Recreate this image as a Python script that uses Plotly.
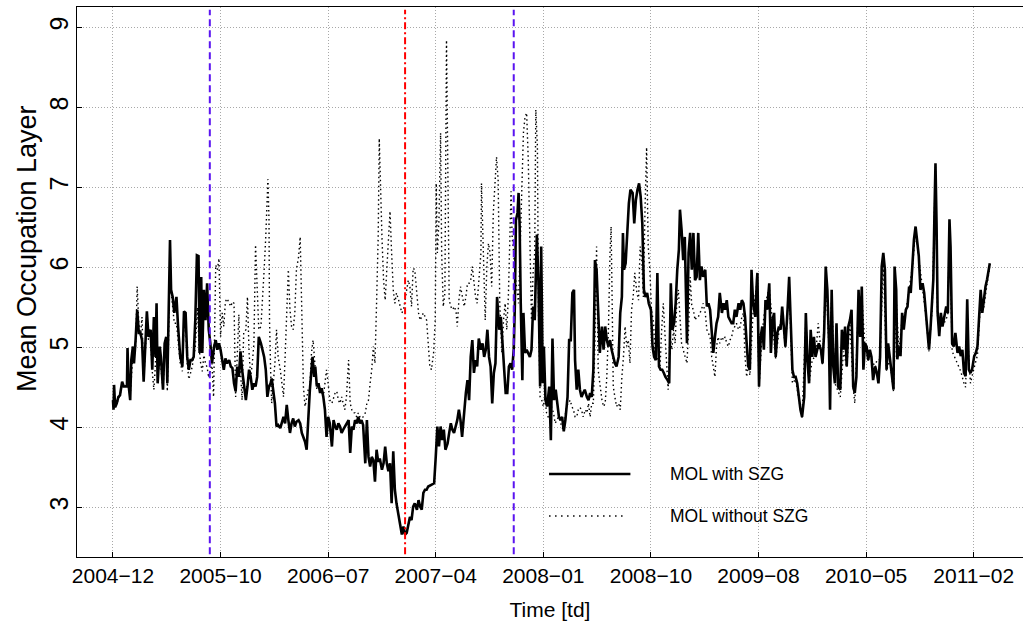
import plotly.graph_objects as go

# ---------------- data (x = trading-day index, y = mean occupation layer) ----------------
tick_td = [0, 200, 400, 600, 800, 1000, 1200, 1400, 1600]
tick_labels = ["2004\u221212", "2005\u221210", "2006\u221207", "2007\u221204", "2008\u221201",
               "2008\u221210", "2009\u221208", "2010\u221205", "2011\u221202"]
y_ticks = [3, 4, 5, 6, 7, 8, 9]

event_td = [180, 543, 745]
event_colors = ["#5a14f0", "#ff0000", "#5a14f0"]
event_dash = ["7px,4px", "7px,3px,2px,3px", "7px,4px"]

mol_with_szg = [
    (0, 4.34), (1, 4.22), (2, 4.53), (4, 4.25), (7, 4.30), (10, 4.38), (13, 4.40), (17, 4.57),
    (20, 4.51), (26, 4.51), (27, 4.99), (29, 4.53), (32, 4.34), (34, 4.84), (37, 5.01), (39, 4.80),
    (42, 5.09), (45, 5.47), (48, 5.18), (51, 5.18), (54, 5.09), (57, 4.57), (60, 5.01), (63, 5.45),
    (66, 5.13), (70, 5.22), (73, 4.72), (76, 5.38), (79, 4.88), (81, 5.55), (83, 4.55), (87, 5.01),
    (89, 4.88), (93, 4.47), (96, 5.05), (99, 5.13), (101, 4.55), (103, 5.13), (106, 6.34), (108, 5.72),
    (111, 5.63), (114, 5.43), (118, 5.63), (121, 5.26), (125, 4.88), (129, 4.76), (132, 5.45), (135, 5.43),
    (138, 4.88), (141, 4.72), (144, 4.84), (147, 4.84), (150, 4.88), (153, 5.34), (156, 6.15), (159, 6.14),
    (161, 4.93), (164, 5.88), (166, 4.93), (169, 5.72), (172, 5.34), (175, 5.80), (178, 5.22), (181, 5.05),
    (184, 4.80), (188, 5.01), (191, 5.09), (194, 4.97), (197, 5.05), (200, 4.97), (203, 4.84), (206, 4.72),
    (209, 4.86), (212, 4.80), (216, 4.84), (219, 4.76), (222, 4.74), (225, 4.55), (228, 4.45), (231, 4.76),
    (234, 4.63), (237, 4.95), (240, 4.72), (243, 4.55), (247, 4.34), (250, 4.51), (253, 4.72), (256, 4.63),
    (259, 4.47), (262, 4.55), (265, 4.51), (268, 4.63), (271, 5.13), (275, 5.05), (278, 4.97), (281, 4.88),
    (284, 4.72), (287, 4.38), (290, 4.51), (293, 4.55),
    (295, 4.61), (298, 4.47), (301, 4.30), (304, 4.01), (307, 4.03), (311, 3.99), (314, 4.05), (317, 4.13),
    (320, 4.05), (323, 4.28), (326, 4.09), (329, 3.93), (332, 4.05), (335, 4.11), (338, 4.01), (341, 4.07),
    (345, 4.09), (348, 4.05), (351, 3.93), (354, 3.88), (357, 3.82), (360, 3.72), (363, 4.18), (366, 4.47),
    (369, 4.72), (371, 4.88), (374, 4.63), (376, 4.76), (379, 4.51), (382, 4.55), (385, 4.43), (388, 4.49),
    (391, 4.38), (394, 4.22), (397, 3.88), (400, 4.13), (403, 4.05), (407, 3.76), (410, 4.09), (413, 4.01),
    (416, 3.97), (419, 4.05), (422, 4.01), (425, 3.93), (428, 3.97), (431, 4.01), (434, 4.05), (438, 4.09),
    (441, 3.68), (444, 4.01), (447, 3.97), (450, 4.09), (453, 4.05), (456, 4.13), (459, 4.05), (462, 4.09),
    (465, 4.03), (469, 3.55), (472, 4.09), (475, 3.63), (478, 3.51), (481, 3.63), (484, 3.59), (487, 3.32),
    (490, 3.72), (493, 3.57), (496, 3.61), (500, 3.47), (503, 3.55), (506, 3.76), (509, 3.55), (512, 3.45),
    (515, 3.55), (518, 3.05), (521, 3.70), (524, 3.22), (527, 3.05), (531, 2.88), (534, 2.80), (537, 2.66),
    (540, 2.76), (543, 2.66), (546, 2.68), (549, 2.80), (552, 2.88), (555, 2.84), (558, 3.01), (561, 3.05),
    (565, 2.97), (568, 3.09), (571, 3.01), (574, 2.97), (577, 3.18), (580, 3.22), (583, 3.22), (586, 3.26),
    (592, 3.28), (597, 3.30),
    (600, 3.63), (603, 4.01), (606, 3.76), (609, 4.01), (612, 3.84), (615, 3.97), (618, 3.72), (622, 3.80),
    (625, 3.93), (628, 4.05), (631, 3.97), (634, 3.93), (637, 4.01), (640, 4.09), (643, 4.22), (646, 4.09),
    (649, 3.88), (653, 4.22), (656, 4.43), (659, 4.59), (662, 4.34), (665, 4.88), (668, 5.09), (671, 4.68),
    (674, 4.84), (677, 4.76), (680, 5.11), (684, 4.97), (687, 5.05), (690, 4.88), (693, 4.97), (696, 5.22),
    (699, 4.88), (702, 4.76), (705, 4.30), (708, 4.68), (711, 4.80), (714, 5.63), (718, 5.22), (721, 5.38),
    (724, 5.01), (727, 4.68), (730, 4.43), (733, 4.43), (736, 4.76), (739, 4.80), (742, 4.72), (745, 4.97),
    (747, 5.51), (749, 6.59), (752, 6.68), (754, 6.93), (756, 6.51), (758, 5.55), (761, 4.59), (763, 5.43),
    (766, 4.93), (769, 4.97), (772, 4.93), (775, 4.88), (778, 4.97), (781, 5.51), (784, 5.34), (788, 6.41),
    (791, 5.80), (794, 4.51), (796, 6.26), (799, 4.55), (801, 5.01), (804, 4.34), (807, 4.26), (811, 4.51),
    (814, 3.84), (817, 5.11), (820, 4.34), (823, 4.47), (826, 4.30), (829, 4.13), (832, 4.09), (835, 4.13),
    (838, 3.95), (841, 4.09), (845, 4.38), (848, 5.09), (851, 5.09), (854, 5.68), (857, 5.72), (859, 4.84),
    (862, 4.47), (865, 4.72), (868, 4.47), (871, 4.38), (874, 4.43), (877, 4.47), (881, 4.38), (884, 4.34),
    (887, 4.43),
    (890, 4.38), (893, 4.72), (896, 6.09), (899, 5.97), (902, 5.30), (905, 4.93), (909, 5.26), (912, 4.97),
    (915, 5.26), (918, 5.09), (921, 5.01), (924, 5.09), (927, 4.97), (930, 4.88), (933, 4.80), (936, 4.76),
    (940, 4.88), (943, 5.43), (946, 5.63), (948, 6.43), (950, 5.97), (953, 6.05), (956, 6.47), (959, 6.80),
    (962, 6.97), (966, 6.93), (969, 6.55), (972, 6.84), (975, 6.97), (978, 7.05), (981, 6.88), (984, 6.55),
    (987, 5.72), (990, 5.63), (993, 5.68), (996, 5.55), (1000, 5.47), (1003, 5.01), (1006, 4.88), (1009, 4.84),
    (1012, 5.93), (1015, 4.76), (1018, 4.72), (1021, 4.72), (1024, 4.68), (1027, 4.63), (1031, 4.59), (1034, 4.55),
    (1037, 5.80), (1040, 5.22), (1043, 5.30), (1046, 5.55), (1049, 5.97), (1052, 6.22), (1054, 6.72), (1057, 6.47),
    (1060, 6.09), (1063, 6.38), (1067, 5.05), (1070, 6.18), (1073, 6.43), (1076, 5.97), (1079, 6.43), (1082, 5.84),
    (1085, 5.88), (1088, 6.43), (1091, 5.84), (1094, 6.01), (1097, 5.88), (1101, 5.97), (1104, 5.51), (1107, 5.55),
    (1110, 5.47), (1113, 5.22), (1116, 4.93), (1119, 5.13), (1122, 5.30), (1125, 5.38), (1128, 5.68), (1132, 5.43),
    (1135, 5.55), (1138, 5.47), (1141, 5.59), (1144, 5.38), (1147, 5.34), (1150, 5.30), (1153, 5.30), (1156, 5.47),
    (1159, 5.38), (1163, 5.55), (1166, 5.47), (1169, 5.59), (1172, 5.55), (1175, 5.38), (1178, 5.05), (1181, 4.76),
    (1184, 4.72), (1187, 5.97), (1190, 5.55), (1194, 5.38), (1197, 5.84), (1198, 5.93), (1201, 4.51), (1204, 5.13),
    (1207, 5.26), (1210, 4.97), (1213, 5.59), (1216, 5.47), (1220, 5.80), (1223, 4.93), (1226, 5.34), (1229, 5.43),
    (1232, 4.88), (1235, 5.18), (1238, 5.26), (1241, 5.22), (1244, 5.51), (1247, 5.26), (1250, 5.01), (1254, 5.47),
    (1257, 5.88), (1260, 5.30), (1263, 4.72), (1266, 4.63), (1269, 4.63), (1272, 4.55), (1275, 4.38), (1278, 4.22),
    (1281, 4.13), (1285, 4.38), (1288, 5.43), (1291, 4.84), (1294, 4.55), (1297, 5.22), (1300, 4.88), (1303, 5.13),
    (1306, 4.88), (1309, 4.97), (1312, 5.05), (1316, 4.97), (1319, 4.80), (1322, 5.18), (1325, 6.01), (1328, 5.72),
    (1331, 5.05), (1333, 4.22), (1336, 5.72), (1339, 4.76), (1342, 4.55), (1345, 5.30), (1348, 4.51), (1352, 4.47),
    (1355, 5.22), (1358, 4.97), (1361, 5.26), (1364, 4.76), (1367, 5.26), (1370, 5.34), (1373, 5.47), (1376, 4.51),
    (1379, 4.43), (1382, 4.63), (1386, 5.72), (1389, 5.13), (1392, 5.76), (1395, 4.72), (1398, 5.05), (1401, 5.01),
    (1404, 4.84), (1407, 4.97), (1410, 4.88), (1413, 4.59), (1417, 4.76), (1420, 4.68), (1423, 4.55), (1426, 4.88),
    (1429, 6.01), (1432, 6.18), (1435, 5.97), (1438, 4.72), (1441, 5.05), (1444, 4.88), (1448, 4.63), (1451, 4.47),
    (1453, 6.01), (1456, 5.72), (1458, 4.85), (1461, 5.01), (1464, 4.89), (1467, 5.43), (1470, 5.22), (1474, 5.47),
    (1477, 5.51), (1480, 5.76), (1483, 5.68), (1486, 6.05), (1489, 6.35), (1492, 6.51), (1495, 6.35), (1498, 6.14),
    (1501, 5.72), (1505, 5.80), (1508, 5.68), (1511, 5.43), (1514, 5.26), (1517, 4.97), (1520, 5.26), (1523, 5.55),
    (1525, 5.85), (1527, 6.64), (1529, 7.30), (1531, 6.55), (1533, 5.43), (1536, 5.14), (1539, 5.43), (1542, 5.26),
    (1545, 5.35), (1549, 5.51), (1552, 5.43), (1555, 6.60), (1557, 6.26), (1560, 5.05), (1563, 5.01), (1566, 5.18),
    (1570, 4.93), (1573, 5.01), (1576, 4.89), (1579, 4.97), (1582, 4.68), (1585, 4.64), (1588, 5.60), (1591, 4.72),
    (1594, 4.68), (1597, 4.72), (1601, 4.89), (1604, 4.93), (1607, 5.01), (1610, 5.30), (1613, 5.72), (1616, 5.43),
    (1619, 5.60), (1622, 5.76), (1625, 5.85), (1628, 6.01), (1630, 6.05),
]

mol_without_szg = [
    (0, 4.34), (3, 4.25), (7, 4.30), (13, 4.40), (17, 4.55), (26, 4.50), (29, 4.60), (32, 4.40),
    (37, 4.90), (42, 5.00), (45, 5.76), (48, 5.30), (51, 5.15), (54, 5.38), (57, 4.60), (60, 5.00),
    (63, 5.30), (66, 5.10), (70, 5.10), (73, 4.70), (76, 4.47), (79, 4.80), (81, 5.40), (83, 4.60),
    (87, 4.90), (93, 4.47), (96, 4.90), (99, 5.05), (101, 4.45), (103, 5.00), (106, 6.20), (108, 5.70),
    (111, 5.50), (114, 5.30), (118, 5.30), (121, 5.10), (125, 4.80), (129, 4.70), (132, 5.30), (135, 5.30),
    (138, 4.80), (141, 4.60), (147, 4.75), (153, 5.00), (157, 5.50), (160, 5.00), (163, 4.80), (166, 4.70),
    (169, 4.90), (172, 4.80), (175, 4.75), (178, 4.62), (181, 4.70), (184, 4.80), (187, 4.38), (191, 6.03),
    (194, 5.97), (197, 6.11), (200, 5.13), (203, 5.43), (206, 5.26), (209, 5.57), (212, 5.61), (216, 5.55),
    (219, 5.51), (222, 5.57), (225, 5.55), (228, 4.38), (231, 4.88), (234, 5.41), (237, 4.72), (240, 4.34),
    (243, 5.18), (247, 5.22), (250, 5.63), (253, 4.93), (256, 4.63), (259, 4.80), (262, 5.05), (265, 6.28),
    (268, 5.76), (271, 5.22), (275, 5.26), (278, 5.55), (281, 5.97), (284, 6.38), (288, 7.10), (290, 6.60),
    (291, 5.34), (293, 4.72), (295, 4.30), (298, 4.55), (301, 4.80), (304, 5.22), (307, 4.88), (311, 4.72),
    (314, 4.55), (317, 4.38), (320, 4.88), (323, 5.47), (326, 5.97), (329, 5.47), (332, 5.26), (335, 5.22),
    (338, 5.43), (341, 5.97), (345, 6.13), (348, 6.38), (351, 5.34), (354, 4.51), (357, 4.26), (360, 4.38),
    (363, 4.47), (366, 4.51), (369, 4.93), (372, 5.09), (376, 4.72), (379, 4.47), (382, 4.55), (385, 4.51),
    (388, 4.43), (391, 4.38), (394, 4.55), (397, 4.72), (400, 4.55), (403, 4.34), (407, 4.30), (410, 4.38),
    (413, 4.43), (416, 4.45), (419, 4.34), (422, 4.30), (425, 4.38), (428, 4.30), (431, 4.22), (434, 4.38),
    (438, 4.84), (441, 4.30), (444, 4.22), (447, 4.18), (450, 4.18), (453, 4.13), (456, 4.18), (459, 4.13),
    (462, 4.11), (465, 4.13), (469, 4.18), (472, 4.30), (475, 4.34), (478, 4.55), (481, 4.72), (484, 5.01),
    (487, 4.80), (490, 5.55), (493, 6.38), (495, 7.61), (498, 6.59), (500, 6.38), (503, 5.84), (506, 5.59),
    (509, 5.97), (512, 6.38), (515, 6.70), (518, 6.18), (521, 5.72), (524, 5.55), (527, 5.68), (531, 5.59),
    (534, 5.51), (537, 5.43), (540, 5.47), (543, 5.63), (546, 5.72), (549, 5.84), (552, 5.76), (555, 5.51),
    (558, 5.99), (561, 5.97), (565, 5.63), (568, 5.43), (571, 5.34), (577, 5.43), (583, 5.34), (586, 5.09),
    (589, 4.76), (592, 4.72), (596, 4.93), (599, 5.34), (601, 7.05), (603, 6.18), (606, 6.59), (609, 7.68),
    (611, 6.18), (614, 5.51), (617, 5.68), (620, 8.84), (623, 6.18), (625, 5.59), (628, 5.51), (631, 5.47),
    (635, 5.51), (638, 5.43), (640, 5.26), (643, 5.59), (646, 5.76), (649, 5.63), (653, 5.51), (656, 5.63),
    (659, 5.80), (662, 5.80), (665, 5.84), (668, 6.01), (671, 5.80), (674, 5.63), (677, 5.55), (680, 5.84),
    (684, 6.18), (685, 7.05), (688, 6.34), (692, 5.34), (695, 6.01), (698, 6.30), (701, 6.18), (704, 5.76),
    (707, 6.68), (710, 7.09), (713, 7.38), (716, 7.09), (719, 5.55), (723, 4.93), (726, 5.34), (729, 5.55),
    (732, 5.22), (735, 5.63), (738, 6.59), (740, 6.95), (742, 6.38), (745, 6.18), (747, 5.93), (750, 5.76),
    (754, 5.55), (757, 6.26), (760, 7.01), (763, 7.68), (766, 7.88), (769, 7.93), (772, 7.34), (775, 6.26),
    (778, 5.34), (781, 5.93), (784, 6.18), (786, 7.97), (789, 7.51), (791, 5.43), (794, 4.38), (797, 4.34),
    (800, 4.26), (803, 4.38), (806, 4.18), (809, 4.13), (812, 4.09), (815, 4.26), (819, 4.18), (822, 4.05),
    (825, 4.09), (828, 4.13), (831, 4.09), (834, 4.01), (837, 3.97), (843, 4.26), (850, 4.34), (853, 4.26),
    (856, 4.22), (859, 4.13), (862, 4.13), (865, 4.22), (868, 4.25), (871, 4.22), (874, 4.13), (878, 4.22),
    (881, 4.18), (884, 4.30), (887, 4.13), (890, 4.30), (893, 4.30), (896, 5.09), (899, 6.26), (902, 4.72),
    (905, 4.55), (909, 4.34), (912, 4.26), (915, 4.30), (918, 4.63), (921, 5.22), (924, 6.18), (926, 6.51),
    (928, 5.55), (930, 4.51), (933, 4.38), (936, 4.26), (940, 4.30), (943, 4.22), (946, 4.63), (949, 4.88),
    (952, 5.26), (955, 5.01), (958, 5.09), (961, 4.80), (964, 5.47), (967, 5.63), (970, 5.93), (974, 5.68),
    (977, 5.59), (980, 6.26), (983, 6.09), (986, 5.63), (989, 6.72), (992, 7.50), (995, 6.26), (998, 5.97),
    (1001, 5.47), (1005, 5.30), (1008, 4.84), (1011, 4.88), (1014, 4.84), (1017, 4.76), (1020, 5.22), (1023, 5.55),
    (1026, 5.18), (1029, 4.80), (1032, 4.47), (1036, 5.13), (1039, 4.97), (1042, 5.22), (1045, 5.05), (1048, 5.55),
    (1051, 5.72), (1054, 5.38), (1057, 5.05), (1060, 4.97), (1063, 4.88), (1067, 4.80), (1070, 5.22), (1073, 5.88),
    (1076, 5.51), (1079, 5.47), (1082, 5.34), (1085, 5.38), (1088, 5.38), (1091, 5.43), (1094, 5.47), (1097, 5.55),
    (1101, 5.43), (1104, 5.22), (1107, 5.18), (1110, 5.13), (1113, 4.88), (1116, 4.72), (1119, 4.63), (1122, 5.01),
    (1125, 5.13), (1128, 5.05), (1132, 5.13), (1135, 5.09), (1138, 5.13), (1141, 5.05), (1144, 5.01), (1147, 5.09),
    (1150, 5.13), (1153, 5.22), (1156, 5.26), (1159, 5.30), (1163, 5.22), (1166, 5.26), (1169, 5.38), (1172, 5.43),
    (1175, 4.88), (1178, 4.63), (1181, 4.80), (1184, 4.65), (1190, 5.45), (1197, 5.80), (1201, 4.50), (1207, 5.20),
    (1213, 5.55), (1220, 5.75), (1226, 5.30), (1232, 4.85), (1238, 5.20), (1244, 5.45), (1250, 4.98), (1257, 5.80),
    (1263, 4.55), (1269, 4.60), (1275, 4.35), (1281, 4.12), (1288, 5.35), (1294, 4.55), (1300, 4.85), (1306, 4.88),
    (1311, 5.30), (1319, 4.78), (1325, 5.90), (1331, 5.00), (1336, 5.60), (1342, 4.55), (1348, 4.45), (1352, 4.38),
    (1358, 4.95), (1364, 4.75), (1370, 5.30), (1376, 4.50), (1379, 4.30), (1386, 5.60), (1392, 5.65), (1398, 5.00),
    (1404, 4.84), (1410, 4.85), (1417, 4.75), (1420, 4.84), (1426, 4.85), (1432, 6.10), (1438, 4.70), (1444, 4.85),
    (1451, 4.45), (1456, 5.60), (1461, 4.95), (1467, 5.35), (1474, 5.45), (1480, 5.70), (1486, 6.00), (1492, 6.45),
    (1498, 6.10), (1505, 5.75), (1511, 5.40), (1517, 4.95), (1523, 5.50), (1529, 7.25), (1533, 5.35), (1539, 5.35),
    (1545, 5.30), (1552, 5.40), (1555, 6.55), (1560, 4.95), (1566, 4.85), (1570, 4.80), (1576, 4.70), (1582, 4.55),
    (1585, 4.50), (1588, 5.20), (1594, 4.55), (1601, 4.75), (1607, 4.90), (1613, 5.60), (1619, 5.50), (1625, 5.80),
    (1630, 6.00),
]

series_names = ["MOL with SZG", "MOL without SZG"]
y_title = "Mean Occupation Layer"
x_title = "Time [td]"

# ---------------- figure ----------------
FONT = "Liberation Sans, Arial, Helvetica, sans-serif"

fig = go.Figure()

x_wo = [p[0] for p in mol_without_szg]
y_wo = [p[1] for p in mol_without_szg]
x_w = [p[0] for p in mol_with_szg]
y_w = [p[1] for p in mol_with_szg]

fig.add_trace(go.Scatter(x=x_wo, y=y_wo, mode="lines", name=series_names[1],
                         line=dict(color="black", width=1.4, dash="1.5px,3px"),
                         hoverinfo="skip", showlegend=False))
fig.add_trace(go.Scatter(x=x_w, y=y_w, mode="lines", name=series_names[0],
                         line=dict(color="black", width=2.6),
                         hoverinfo="skip", showlegend=False))

shapes = []
for xv, col, dsh in zip(event_td, event_colors, event_dash):
    shapes.append(dict(type="line", xref="x", yref="paper", x0=xv, x1=xv, y0=0.005, y1=0.995,
                       line=dict(color=col, width=2, dash=dsh), layer="above"))

# manual legend (no box), like R's legend(bty="n")
shapes.append(dict(type="line", xref="paper", yref="paper", x0=0.499, x1=0.585, y0=0.151, y1=0.151,
                   line=dict(color="black", width=2.5)))
shapes.append(dict(type="line", xref="paper", yref="paper", x0=0.499, x1=0.581, y0=0.0745, y1=0.0745,
                   line=dict(color="black", width=1.5, dash="1.5px,4.5px")))

annotations = [
    dict(text=series_names[0], xref="paper", yref="paper", x=0.6247, y=0.151, xanchor="left",
         yanchor="middle", showarrow=False, font=dict(family=FONT, size=17.5, color="black")),
    dict(text=series_names[1], xref="paper", yref="paper", x=0.6247, y=0.0745, xanchor="left",
         yanchor="middle", showarrow=False, font=dict(family=FONT, size=17.5, color="black")),
    # y-axis title
    dict(text=y_title, xref="paper", yref="paper", x=-0.0528, y=0.56, xanchor="center",
         yanchor="middle", textangle=-90, showarrow=False,
         font=dict(family=FONT, size=27, color="black")),
]

fig.update_layout(
    width=1023, height=621,
    margin=dict(l=77, r=0, t=7, b=64),
    paper_bgcolor="white", plot_bgcolor="white",
    font=dict(family=FONT, color="black"),
    shapes=shapes, annotations=annotations,
    showlegend=False, hovermode=False,
)

fig.update_xaxes(
    range=[-66.9, 1691.7], tickmode="array", tickvals=tick_td, ticktext=tick_labels,
    showgrid=True, gridcolor="#a8a8a8", griddash="1px,2px", gridwidth=1,
    zeroline=False, showline=True, linecolor="black", linewidth=1, mirror=True,
    ticks="inside", ticklen=5, tickcolor="black",
    tickfont=dict(family=FONT, size=21, color="black"),
    title=dict(text=x_title, font=dict(family=FONT, size=21, color="black"), standoff=16),
)
fig.update_yaxes(
    range=[2.379, 9.254], tickmode="array", tickvals=y_ticks, ticktext=[str(v) for v in y_ticks],
    showgrid=True, gridcolor="#a8a8a8", griddash="1px,2px", gridwidth=1,
    zeroline=False, showline=True, linecolor="black", linewidth=1, mirror=True,
    ticks="inside", ticklen=5, tickcolor="black", tickangle=-90, ticklabelstandoff=-2,
    tickfont=dict(family=FONT, size=25, color="black"),
)

fig.write_html("out.html", config={"displayModeBar": False})
